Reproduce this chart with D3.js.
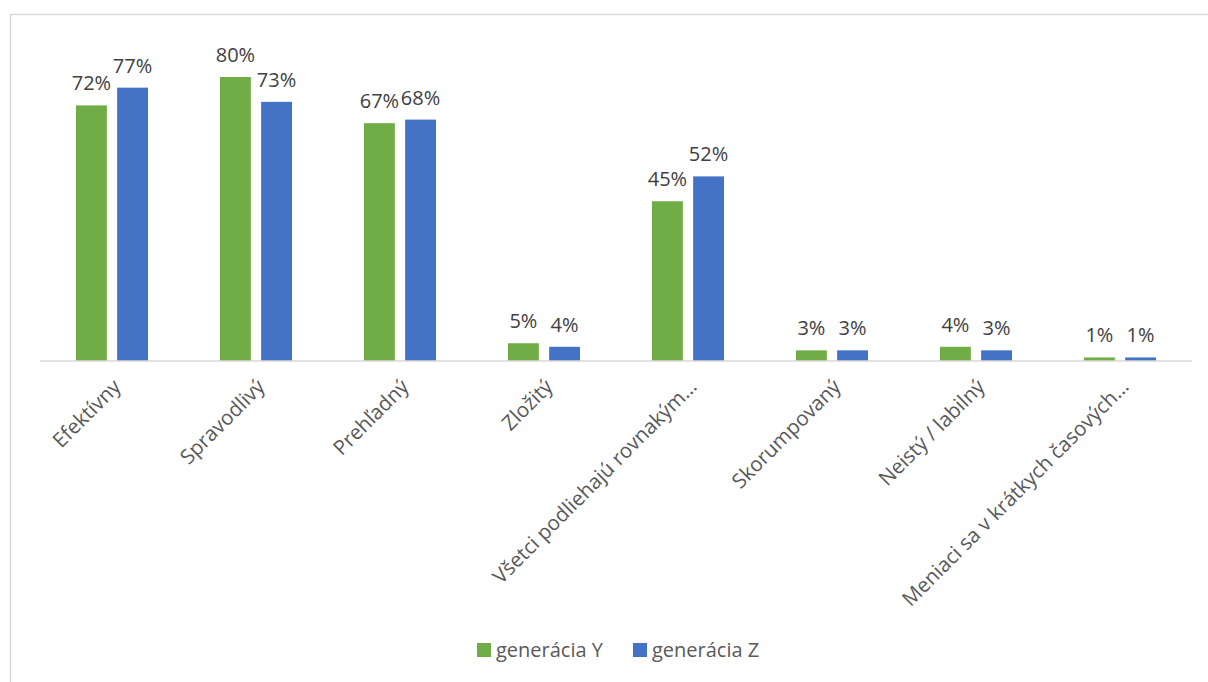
<!DOCTYPE html>
<html>
<head>
<meta charset="utf-8">
<script src="https://cdn.jsdelivr.net/npm/d3@7"></script>
<style>
  body { margin: 0; background: #fff; }
  text { font-family: "Open Sans", "Noto Sans", sans-serif; }
</style>
</head>
<body>
<svg id="chart" width="1208" height="682"></svg>
<script>
// data
const categories = ["Efektívny", "Spravodlivý", "Prehľadný", "Zložitý",
    "Všetci podliehajú rovnakým…", "Skorumpovaný", "Neistý / labilný",
    "Meniaci sa v krátkych časových…"];
const seriesNames = ["generácia Y", "generácia Z"];
const genY = [72, 80, 67, 5, 45, 3, 4, 1];
const genZ = [77, 73, 68, 4, 52, 3, 3, 1];
const colors = ["#70AD47", "#4472C4"];

const width = 1208, height = 682;
const svg = d3.select("#chart");

// chart frame
svg.append("rect")
    .attr("x", 10.5).attr("y", 14.5)
    .attr("width", 1210).attr("height", 700)
    .attr("fill", "none")
    .attr("stroke", "#d9d9d9")
    .attr("stroke-width", 1.5);

const plot = {left: 40, right: 1192, top: 41.5, bottom: 361};

let x0 = d3.scaleBand()
    .domain(categories)
    .range([plot.left, plot.right])
    .paddingInner(0.5)
    .paddingOuter(0.25);

let x1 = d3.scaleBand()
    .domain(seriesNames)
    .range([0, x0.bandwidth()])
    .paddingInner(0.25);

let y = d3.scaleLinear()
    .domain([0, 90])
    .range([plot.bottom, plot.top]);

let rows = categories.map(function(c, i) {
    return {cat: c, vals: [genY[i], genZ[i]]};
});

let groups = svg.selectAll("g.cat")
    .data(rows)
    .enter()
    .append("g")
    .attr("class", "cat")
    .attr("transform", function(d) { return "translate(" + x0(d.cat) + ",0)"; });

groups.selectAll("rect")
    .data(function(d) { return d.vals.map(function(v, j) { return {s: seriesNames[j], v: v, j: j}; }); })
    .enter()
    .append("rect")
    .attr("x", function(d) { return x1(d.s); })
    .attr("y", function(d) { return y(d.v); })
    .attr("width", x1.bandwidth())
    .attr("height", function(d) { return plot.bottom - y(d.v); })
    .attr("fill", function(d) { return colors[d.j]; });

groups.selectAll("text.val")
    .data(function(d) { return d.vals.map(function(v, j) { return {s: seriesNames[j], v: v, j: j}; }); })
    .enter()
    .append("text")
    .attr("class", "val")
    .attr("x", function(d) { return x1(d.s) + x1.bandwidth() / 2; })
    .attr("y", function(d) { return y(d.v) - 15; })
    .attr("text-anchor", "middle")
    .attr("font-size", "20px")
    .attr("fill", "#404040")
    .text(function(d) { return d.v + "%"; });

// x axis
let xAxis = d3.axisBottom(x0).tickSize(0).tickPadding(0);
let gX = svg.append("g")
    .attr("transform", "translate(0," + plot.bottom + ")")
    .call(xAxis);
gX.select(".domain").attr("stroke", "#d9d9d9").attr("stroke-width", 1.5)
    .attr("d", "M" + plot.left + ",0H" + plot.right);
gX.selectAll(".tick text")
    .attr("font-family", "\"Open Sans\", sans-serif")
    .attr("font-size", "20.5px")
    .attr("fill", "#595959")
    .attr("text-anchor", "end")
    .attr("dy", "0.35em")
    .attr("y", 0)
    .attr("transform", "translate(5,22) rotate(-45)");

// legend
const legend = svg.append("g").attr("transform", "translate(477,650)");
const legX = [0, 156];
seriesNames.forEach(function(s, j) {
    let g = legend.append("g").attr("transform", "translate(" + legX[j] + ",0)");
    g.append("rect").attr("x", 0).attr("y", -7).attr("width", 14).attr("height", 14)
        .attr("fill", colors[j]);
    g.append("text").attr("x", 19).attr("y", 0).attr("dy", "0.35em")
        .attr("font-size", "20px").attr("fill", "#595959").text(s);
});
</script>
</body>
</html>
